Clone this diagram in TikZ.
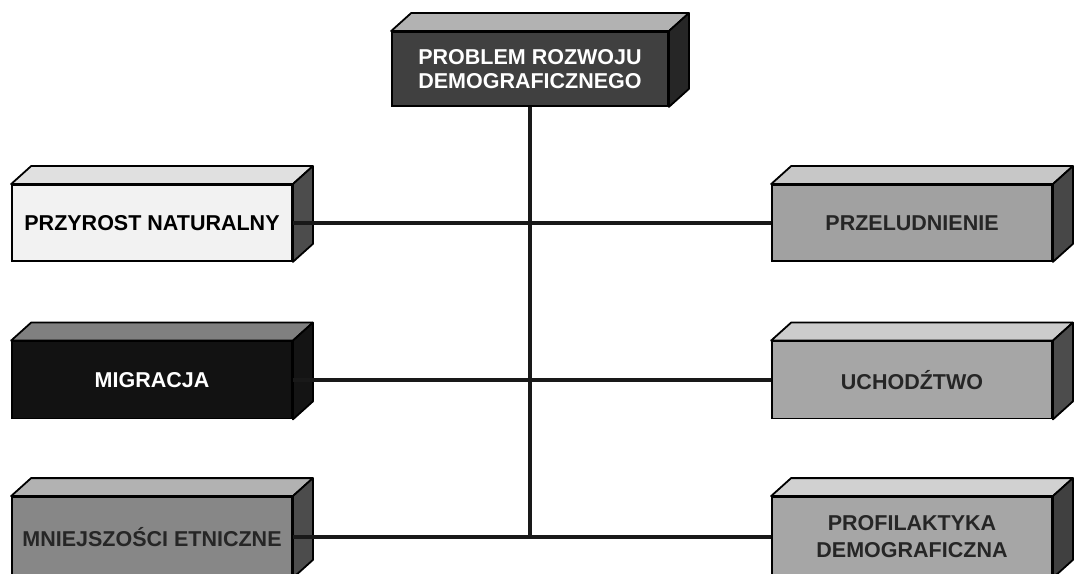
\documentclass[tikz,border=0pt]{standalone}
\usepackage{fontspec}
\setmainfont{Liberation Sans}
\usetikzlibrary{calc}
\tikzset{
  cube/.style={draw=black, line width=1.8pt, inner sep=0pt, align=center,
    font=\fontsize{21.5}{24}\selectfont\bfseries, minimum width=280pt, minimum height=76pt},
  face/.style={draw=black, line width=1.8pt, line join=round},
  conn/.style={line width=3.4pt, draw=black!90}
}
\newcommand{\cubefaces}[3]{%
  \draw[face, fill=#2] (#1.north west) -- ++(20pt,18pt) -- ($(#1.north east)+(20pt,18pt)$) -- (#1.north east) -- cycle;
  \draw[face, fill=#3] (#1.north east) -- ++(20pt,18pt) -- ($(#1.south east)+(20pt,18pt)$) -- (#1.south east) -- cycle;
}
\begin{document}
\begin{tikzpicture}[x=1pt,y=1pt]
\useasboundingbox[fill=white] (0,0) rectangle (1075,573);
% nodes
\node[cube, fill=black!75, text=white, minimum width=276pt, minimum height=74pt] (top) at (530,504) {PROBLEM ROZWOJU\\DEMOGRAFICZNEGO};
\node[cube, fill=black!5, text=black] (l1) at (152,350) {PRZYROST NATURALNY};
\node[cube, fill=black!37, text=black!85] (r1) at (912,350) {PRZELUDNIENIE};
\node[cube, fill=black!93, text=white, minimum height=77pt] (l2) at (152,193) {MIGRACJA};
\node[cube, fill=black!35, text=black!85, minimum height=77pt] (r2) at (912,193) {UCHODŹTWO};
\node[cube, fill=black!47, text=black!85, minimum height=80pt] (l3) at (152,36) {MNIEJSZOŚCI ETNICZNE};
\node[cube, fill=black!35, text=black!85, minimum height=80pt, font=\fontsize{21.5}{27}\selectfont\bfseries] (r3) at (912,36) {PROFILAKTYKA\\DEMOGRAFICZNA};
% 3D faces
\cubefaces{top}{black!30}{black!85}
\cubefaces{l1}{black!12}{black!70}
\cubefaces{r1}{black!22}{black!72}
\cubefaces{l2}{black!50}{black!92}
\cubefaces{r2}{black!20}{black!70}
\cubefaces{l3}{black!30}{black!70}
\cubefaces{r3}{black!18}{black!75}
% connectors
\coordinate (j) at (top.south |- l3.east);
\draw[conn] (top.south) -- (j);
\draw[conn] (l1.east) -- (r1.west);
\draw[conn] (l2.east) -- (r2.west);
\draw[conn] (l3.east) -- (r3.west);
\end{tikzpicture}
\end{document}
